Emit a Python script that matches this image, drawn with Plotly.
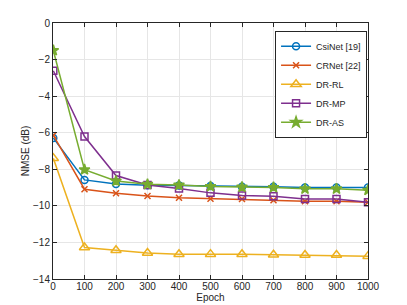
import plotly.graph_objects as go

epochs = [1, 100, 200, 300, 400, 500, 600, 700, 800, 900, 1000]
csinet = [-6.29, -8.58, -8.81, -8.87, -8.88, -8.92, -8.96, -8.96, -8.99, -8.99, -9.0]
crnet = [-6.14, -9.09, -9.31, -9.46, -9.56, -9.61, -9.63, -9.69, -9.75, -9.75, -9.8]
dr_rl = [-7.4, -12.28, -12.43, -12.58, -12.65, -12.64, -12.65, -12.67, -12.69, -12.69, -12.75]
dr_mp = [-2.61, -6.21, -8.34, -8.86, -9.05, -9.29, -9.44, -9.48, -9.63, -9.63, -9.8]
dr_as = [-1.5, -8.02, -8.64, -8.82, -8.86, -8.94, -8.97, -8.99, -9.07, -9.07, -9.14]

names = ["CsiNet [19]", "CRNet [22]", "DR-RL", "DR-MP", "DR-AS"]
colors = ["#0072BD", "#D95319", "#EDB120", "#7E2F8E", "#77AC30"]
symbols = ["circle-open", "x-thin-open", "triangle-up-open", "square-open", "star"]
sizes = [7, 6, 9, 7, 8]

x_ticks = [0, 100, 200, 300, 400, 500, 600, 700, 800, 900, 1000]
y_ticks = [0, -2, -4, -6, -8, -10, -12, -14]

fig = go.Figure()
for name, ys, c, s, sz in zip(names, [csinet, crnet, dr_rl, dr_mp, dr_as], colors, symbols, sizes):
    fig.add_trace(go.Scatter(
        x=epochs, y=ys, name=name, mode="lines+markers",
        line=dict(color=c, width=1.5),
        marker=dict(symbol=s, size=sz, color=c, line=dict(color=c, width=1.5)),
    ))

axis_common = dict(
    showline=True, linecolor="#262626", linewidth=1, mirror="ticks",
    ticks="inside", ticklen=4, tickcolor="#262626",
    showgrid=True, gridcolor="#E6E6E6", gridwidth=1,
    zeroline=False, automargin=False,
    tickfont=dict(family="Liberation Sans, Arial", size=10, color="#262626"),
)

# page body has an 8px default margin, so the figure is offset by 8px
fig.update_layout(
    width=399, height=297,
    margin=dict(l=45, r=39, t=15, b=26),
    paper_bgcolor="white", plot_bgcolor="white",
    font=dict(family="Liberation Sans, Arial", size=10, color="#262626"),
    xaxis=dict(range=[0, 1000], tickvals=x_ticks, ticklabelstandoff=-2,
               title=dict(text="Epoch", standoff=2, font=dict(size=10)), **axis_common),
    yaxis=dict(range=[-14, 0], tickvals=y_ticks,
               title=dict(text="NMSE (dB)", standoff=1, font=dict(size=10)), **axis_common),
    legend=dict(x=0.997, y=0.97, xanchor="right", yanchor="top",
                bgcolor="white", bordercolor="#262626", borderwidth=1,
                font=dict(size=9), tracegroupgap=0, itemwidth=30),
    showlegend=True,
)

fig.write_html("out.html")
